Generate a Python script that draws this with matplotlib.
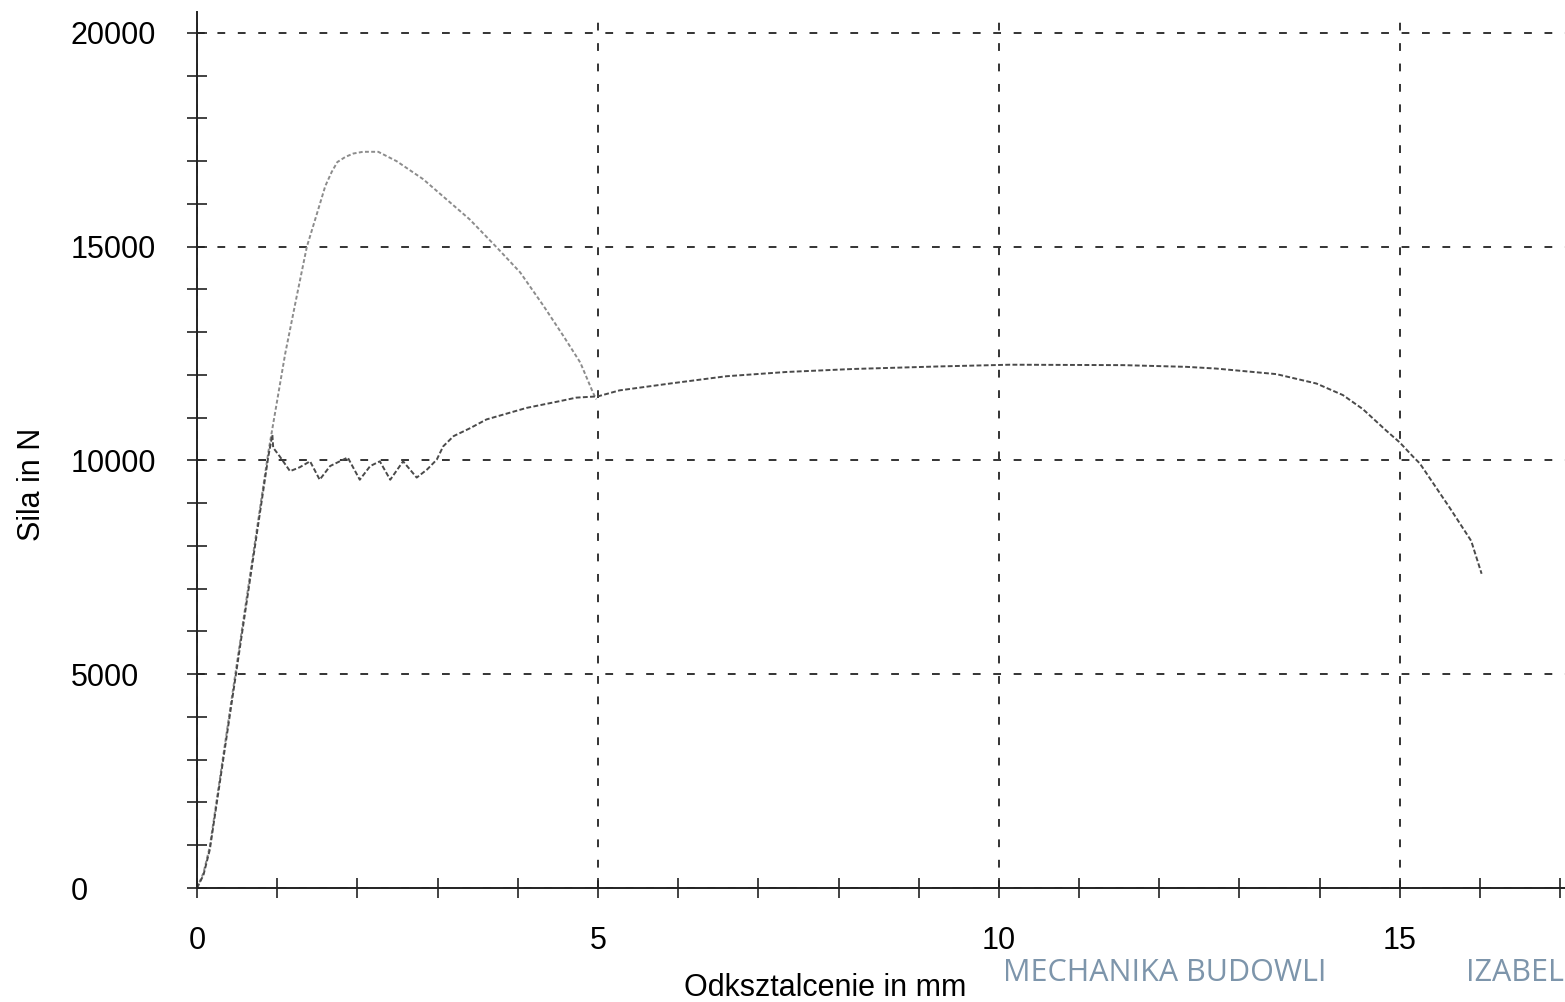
import matplotlib
matplotlib.use('Agg')
import matplotlib.pyplot as plt
from matplotlib.ticker import MultipleLocator

# Curve 1 (lighter trace, high peak) - deformation in mm, force in kN
x1 = [0, 0.08, 0.16, 0.43, 0.89, 1.10, 1.25, 1.37, 1.50, 1.60, 1.68, 1.75, 1.85,
      1.95, 2.07, 2.26, 2.49, 2.82, 3.11, 3.40, 3.74, 4.03, 4.32, 4.57, 4.78, 4.94, 4.98]
f1 = [0, 0.35, 0.97, 4.4, 10.2, 12.5, 13.9, 15.0, 15.8, 16.42, 16.75, 16.98, 17.1,
      17.18, 17.22, 17.22, 17.0, 16.58, 16.11, 15.64, 14.98, 14.4, 13.62, 12.91, 12.29, 11.58, 11.43]

# Curve 2 (darker trace, yield plateau)
x2 = [0, 0.08, 0.16, 0.43, 0.89, 0.94, 0.95, 1.03, 1.16, 1.28, 1.41, 1.53, 1.66,
      1.78, 1.88, 2.03, 2.16, 2.28, 2.41, 2.57, 2.74, 2.87, 2.99, 3.07, 3.20, 3.40,
      3.61, 4.11, 4.53, 4.73, 5.00, 5.27, 5.90, 6.60, 7.35, 8.18, 9.26, 10.14, 11.55,
      12.34, 12.71, 13.46, 13.96, 14.29, 14.54, 14.83, 15.00, 15.17, 15.25, 15.62,
      15.89, 16.02]
f2 = [0, 0.3, 0.9, 4.3, 10.1, 10.6, 10.3, 10.1, 9.75, 9.84, 9.98, 9.55, 9.87,
      9.98, 10.07, 9.55, 9.87, 9.98, 9.55, 9.98, 9.60, 9.79, 10.02, 10.33, 10.57, 10.75,
      10.96, 11.23, 11.39, 11.47, 11.5, 11.64, 11.8, 11.97, 12.07, 12.14, 12.2, 12.24, 12.23,
      12.19, 12.15, 12.02, 11.8, 11.53, 11.2, 10.7, 10.42, 10.08, 9.93, 8.9,
      8.12, 7.35]

x_ticks = [0, 5, 10, 15]
y_ticks = [0, 5000, 10000, 15000, 20000]

plt.rcParams['font.family'] = ['Liberation Sans', 'DejaVu Sans']

fig = plt.figure(figsize=(15.65, 10.02), dpi=100)
fig.patch.set_facecolor('white')
ax = fig.add_axes([0.12588, 0.11377, 0.87412, 0.87425])

ax.plot(x1, [v * 1000 for v in f1], color='#8c8c8c', lw=1.4, linestyle=(0, (2, 1.2)))
ax.plot(x2, [v * 1000 for v in f2], color='#4a4a4a', lw=1.4, linestyle=(0, (2.5, 1.2)))

ax.set_xlim(0, 17.06)
ax.set_ylim(0, 20490)

ax.set_xticks(x_ticks)
ax.set_yticks(y_ticks)
ax.xaxis.set_minor_locator(MultipleLocator(1))
ax.yaxis.set_minor_locator(MultipleLocator(1000))

ax.tick_params(which='both', direction='inout', length=14, width=1.2, color='#222222')
ax.tick_params(axis='x', labelsize=22, pad=20)
ax.tick_params(axis='y', labelsize=22, pad=84)
for lbl in ax.get_yticklabels():
    lbl.set_horizontalalignment('left')

ax.grid(True, which='major', color='#333333', linestyle=(0, (4, 6.5)), linewidth=1.4)

for side in ['top', 'right']:
    ax.spines[side].set_visible(False)
for side in ['left', 'bottom']:
    ax.spines[side].set_color('#222222')
    ax.spines[side].set_linewidth(1.4)

fig.text(825 / 1565, 1 - 988 / 1002, 'Odksztalcenie in mm', fontsize=22,
         ha='center', va='center')
fig.text(32 / 1565, 1 - 484 / 1002, 'Sila in N', fontsize=22, rotation=90,
         ha='center', va='center')

# watermark
fig.text(1003 / 1565, 1 - 973 / 1002, 'MECHANIKA BUDOWLI', fontsize=22,
         family='Open Sans', color='#7d95ab', ha='left', va='center')
fig.text(1466 / 1565, 1 - 973 / 1002, 'IZABEL', fontsize=22,
         family='Open Sans', color='#7d95ab', ha='left', va='center')

fig.savefig('out.png', dpi=100)
